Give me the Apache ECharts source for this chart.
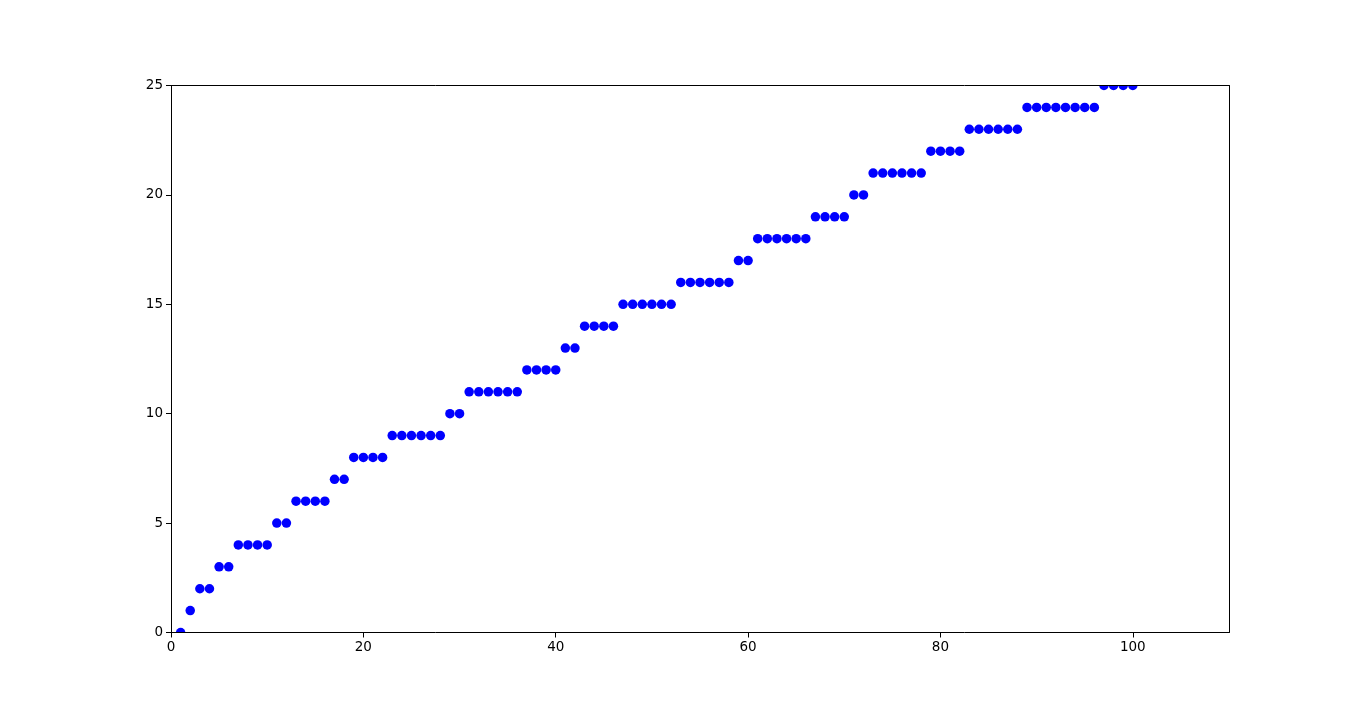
<!DOCTYPE html>
<html><head><meta charset="utf-8">
<script src="https://cdn.jsdelivr.net/npm/echarts@6/dist/echarts.min.js"></script>
<style>html,body{margin:0;padding:0;background:#fff}#c{width:1366px;height:711px}</style>
</head><body><div id="c"></div>
<script>
const xValues = [1,2,3,4,5,6,7,8,9,10,11,12,13,14,15,16,17,18,19,20,21,22,23,24,25,26,27,28,29,30,31,32,33,34,35,36,37,38,39,40,41,42,43,44,45,46,47,48,49,50,51,52,53,54,55,56,57,58,59,60,61,62,63,64,65,66,67,68,69,70,71,72,73,74,75,76,77,78,79,80,81,82,83,84,85,86,87,88,89,90,91,92,93,94,95,96,97,98,99,100];
const yValues = [0,1,2,2,3,3,4,4,4,4,5,5,6,6,6,6,7,7,8,8,8,8,9,9,9,9,9,9,10,10,11,11,11,11,11,11,12,12,12,12,13,13,14,14,14,14,15,15,15,15,15,15,16,16,16,16,16,16,17,17,18,18,18,18,18,18,19,19,19,19,20,20,21,21,21,21,21,21,22,22,22,22,23,23,23,23,23,23,24,24,24,24,24,24,24,24,25,25,25,25];
const xTicks = [0,20,40,60,80,100];
const yTicks = [0,5,10,15,20,25];

const chart = echarts.init(document.getElementById('c'), null, {renderer:'canvas'});
const G = {left:171, right:137, top:85.5, bottom:78.5};
const font = 'DejaVu Sans';
const line = {show:true, onZero:false, lineStyle:{color:'#000', width:1}};
const tick = {show:true, inside:false, length:5, lineStyle:{color:'#000'}};
chart.setOption({
  animation:false,
  grid:{left:G.left, right:G.right, top:G.top, bottom:G.bottom, containLabel:false},
  xAxis:[
    {type:'value', min:0, max:110, position:'bottom', axisLine:line,
      axisTick:Object.assign({customValues:xTicks}, tick),
      axisLabel:{customValues:xTicks, color:'#000', fontFamily:font, fontSize:13.5, margin:8},
      splitLine:{show:false}, z:10},
    {type:'value', min:0, max:110, position:'top', axisLine:line, axisTick:{show:false}, axisLabel:{show:false}, splitLine:{show:false}, z:10}
  ],
  yAxis:[
    {type:'value', min:0, max:25, position:'left', axisLine:line,
      axisTick:Object.assign({customValues:yTicks}, tick),
      axisLabel:{customValues:yTicks, color:'#000', fontFamily:font, fontSize:13.5, margin:8},
      splitLine:{show:false}, z:10},
    {type:'value', min:0, max:25, position:'right', axisLine:line, axisTick:{show:false}, axisLabel:{show:false}, splitLine:{show:false}, z:10}
  ],
  graphic:[
    {type:'rect', z:5, shape:{x:0, y:0, width:1366, height:G.top}, style:{fill:'#fff'}},
    {type:'rect', z:5, shape:{x:0, y:711-G.bottom, width:1366, height:G.bottom}, style:{fill:'#fff'}}
  ],
  series:[{
    type:'scatter', xAxisIndex:0, yAxisIndex:0,
    symbol:'circle', symbolSize:9.5, clip:false,
    itemStyle:{color:'#0000ff', opacity:1},
    data: xValues.map((x,i)=>[x, yValues[i]]),
    z:2
  }]
});
</script></body></html>
